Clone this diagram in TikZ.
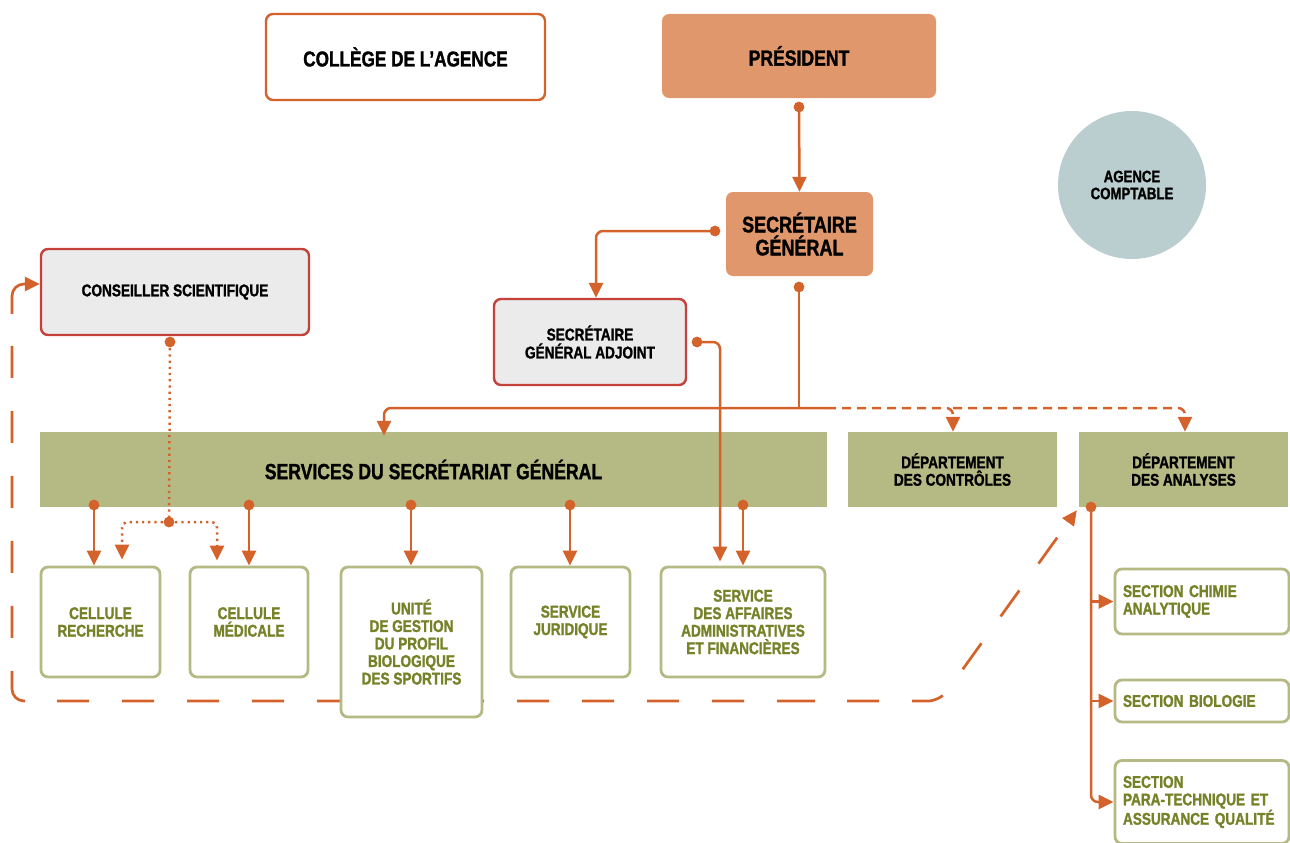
\documentclass[tikz,border=0pt]{standalone}
\usepackage{fontspec}
\setmainfont{Liberation Sans}[FakeStretch=0.8, BoldFeatures={FakeBold=1.3}]
\usetikzlibrary{arrows.meta,backgrounds}
\definecolor{corange}{HTML}{D4622B}
\definecolor{presfill}{HTML}{E0976B}
\definecolor{redborder}{HTML}{C4423A}
\definecolor{greyfill}{HTML}{EBEBEB}
\definecolor{olive}{HTML}{B5B984}
\definecolor{olivetext}{HTML}{768128}
\definecolor{ccircle}{HTML}{BACDCF}
\newcommand\jdot[1]{\fill[corange] (#1) circle (5.4pt);}
\tikzset{
  box/.style={rectangle, rounded corners=7pt, inner sep=0pt, align=center},
  topwhite/.style={box, draw=corange, line width=2.4pt, fill=white, font=\fontsize{21.5}{24}\selectfont\bfseries},
  topfill/.style={box, fill=presfill, font=\fontsize{22}{24}\selectfont\bfseries},
  greybox/.style={box, draw=redborder, line width=2.4pt, fill=greyfill, font=\fontsize{17}{18}\selectfont\bfseries},
  olivebar/.style={rectangle, fill=olive, inner sep=0pt, align=center, font=\fontsize{17}{17.5}\selectfont\bfseries},
  leaf/.style={box, draw=olive, line width=2.8pt, fill=white, text=olivetext, font=\fontsize{17}{17.5}\selectfont\bfseries},
  sect/.style={leaf, align=left, inner xsep=8pt, text width=158pt},
  tip/.style={-{Triangle[length=15pt,width=14pt]}},
  conn/.style={draw=corange, line width=2.5pt, rounded corners=7pt, tip},
  plain/.style={draw=corange, line width=2.5pt},
  dashc/.style={conn, dash pattern=on 9pt off 6pt},
  dotc/.style={draw=corange, line width=2.5pt, dash pattern=on 2.2pt off 4pt, rounded corners=6pt},
  bigdash/.style={draw=corange, line width=2.7pt, rounded corners=12pt, dash pattern=on 38pt off 32pt on 32pt off 33pt on 32pt off 33pt on 32pt off 33pt on 32pt off 33pt on 32pt off 33pt, {Triangle[length=15pt,width=14pt]}-{Triangle[length=15pt,width=14pt]}}
}
\begin{document}
\begin{tikzpicture}[x=1pt,y=-1pt]
\useasboundingbox (0,0) rectangle (1290,843);
% top
\node[topwhite, minimum width=279pt, minimum height=86pt] (col) at (405.5,57) {COLLÈGE DE L’AGENCE};
\node[topfill, minimum width=274pt, minimum height=84pt] (pres) at (799,56) {PRÉSIDENT};
\node[topfill, minimum width=147pt, minimum height=84pt, font=\fontsize{22.5}{23}\selectfont\bfseries] (sg) at (799.5,234) {SECRÉTAIRE\\GÉNÉRAL};
\node[circle, fill=ccircle, minimum size=148pt, inner sep=0pt, align=center, font=\fontsize{16.5}{17}\selectfont\bfseries] (ac) at (1132,185) {AGENCE\\COMPTABLE};
\node[greybox, minimum width=268pt, minimum height=86pt] (cons) at (175,292) {CONSEILLER SCIENTIFIQUE};
\node[greybox, minimum width=192pt, minimum height=86pt] (sga) at (590,342) {SECRÉTAIRE\\GÉNÉRAL ADJOINT};
% bars
\node[olivebar, minimum width=787pt, minimum height=75pt, font=\fontsize{22}{24}\selectfont\bfseries] (sgs) at (433.5,469.5) {SERVICES DU SECRÉTARIAT GÉNÉRAL};
\node[olivebar, minimum width=209pt, minimum height=75pt] (dctl) at (952.5,469.5) {DÉPARTEMENT\\DES CONTRÔLES};
\node[olivebar, minimum width=209pt, minimum height=75pt] (dana) at (1183.5,469.5) {DÉPARTEMENT\\DES ANALYSES};
% leaves
\node[leaf, minimum width=119pt, minimum height=110pt] (cr) at (100.5,622) {CELLULE\\RECHERCHE};
\node[leaf, minimum width=118pt, minimum height=110pt] (cm) at (249,622) {CELLULE\\MÉDICALE};
\node[leaf, minimum width=141pt, minimum height=150pt] (ug) at (411.5,642) {UNITÉ\\DE GESTION\\DU PROFIL\\BIOLOGIQUE\\DES SPORTIFS};
\node[leaf, minimum width=119pt, minimum height=110pt] (sj) at (570.5,622) {SERVICE\\JURIDIQUE};
\node[leaf, minimum width=164pt, minimum height=110pt] (saaf) at (743,622) {SERVICE\\DES AFFAIRES\\ADMINISTRATIVES\\ET FINANCIÈRES};
\node[sect, minimum height=65pt] (sca) at (1202,601.5) {SECTION CHIMIE\\ANALYTIQUE};
\node[sect, minimum height=42pt] (sb) at (1202,701) {SECTION BIOLOGIE};
\node[sect, minimum height=83pt] (spt) at (1202,802) {SECTION\\PARA-TECHNIQUE ET\\ASSURANCE QUALITÉ};
% junction coordinates
\coordinate (pd) at (799,107);
\coordinate (sgl) at (715,231);
\coordinate (sgb) at (799,287);
\coordinate (hj) at (799,408);
\coordinate (hs) at (827,408);
\coordinate (sgar) at (697,342);
\coordinate (consb) at (170,342);
\coordinate (cj) at (169,522);
\coordinate (d1) at (94,505);
\coordinate (d2) at (249,505);
\coordinate (d3) at (411,505);
\coordinate (d4) at (570,505);
\coordinate (d5) at (743,505);
\coordinate (da) at (1091,507);
% president -> sg
\draw[conn] (pd) -- (sg.north);
\jdot{pd}
% sg -> sga
\draw[conn] (sgl) -- (596,231) -- (sga.north -| 596,0);
\jdot{sgl}
% sg -> services line
\draw[plain] (sgb) -- (hj);
\draw[conn] (hs) -- (384,408) -- ([yshift=-4pt]sgs.north -| 384,0);
\draw[dashc] (hs) -- (953,408) -- (dctl.north -| 953,0);
\draw[dashc] (953,408) -- (1185,408) -- (dana.north -| 1185,0);
\jdot{sgb}
% sga -> saaf
\draw[conn] (sgar) -- (720,342) -- ([yshift=4pt]saaf.north -| 720,0);
\jdot{sgar}
% services -> leaves
\draw[conn] (d1) -- (cr.north -| d1);
\draw[conn] (d2) -- (cm.north -| d2);
\draw[conn] (d3) -- (ug.north -| d3);
\draw[conn] (d4) -- (sj.north -| d4);
\draw[conn] (d5) -- (saaf.north -| d5);
\foreach \d in {d1,d2,d3,d4,d5} {\jdot{\d}}
% conseiller dotted
\draw[dotc] (consb) -- (cj);
\draw[dotc, tip] (cj) -- (122,522) -- ([yshift=6pt]cr.north -| 122,0);
\draw[dotc, tip] (cj) -- (217,522) -- ([yshift=5pt]cm.north -| 217,0);
\jdot{consb}
\jdot{cj}
% analyses
\draw[plain, rounded corners=7pt, tip] (da) -- (1091,802) -- (spt.west);
\draw[conn] (1091,601.5) -- (sca.west);
\draw[conn] (1091,701) -- (sb.west);
\jdot{da}
% big dashed loop (drawn from the conseiller end, behind the boxes)
\begin{pgfonlayer}{background}
\draw[bigdash] ([yshift=8pt]cons.west) -- (12,284) -- (12,701) -- (940,701) -- ([xshift=-2pt,yshift=-3pt]dana.south west);
\end{pgfonlayer}
\end{tikzpicture}
\end{document}
